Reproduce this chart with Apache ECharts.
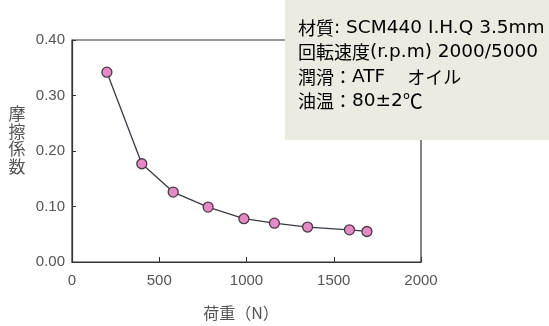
<!DOCTYPE html>
<html><head><meta charset="utf-8">
<script src="https://cdn.jsdelivr.net/npm/echarts@6/dist/echarts.min.js"></script>
<style>html,body{margin:0;padding:0;background:#fff}#c{width:549px;height:326px}</style>
</head><body><div id="c"></div>
<script>
const loads = [200, 400, 580, 780, 985, 1160, 1350, 1590, 1690];
const friction = [0.342, 0.177, 0.126, 0.099, 0.078, 0.070, 0.063, 0.058, 0.055];
const xTicks = [0, 500, 1000, 1500, 2000];
const yTicks = [0, 0.1, 0.2, 0.3, 0.4];
// each note line: [style, text] pieces
const noteLines = [
  [['c', '材質'], ['l', ': SCM440 I.H.Q 3.5mm']],
  [['c', '回転速度'], ['l', '(r.p.m) 2000/5000']],
  [['c', '潤滑：'], ['l', 'ATF'], ['s', '　'], ['c', 'オイル']],
  [['c', '油温：'], ['l', '80±2'], ['d', '℃']]
];
const xName = '荷重（N）';
const yName = '摩擦係数';

const cjk = '"Noto Sans CJK JP", sans-serif';
const lat = '"DejaVu Sans", sans-serif';
const tickFont = '"Liberation Sans", Arial, sans-serif';
const chart = echarts.init(document.getElementById('c'), null, {renderer: 'canvas'});
chart.setOption({
  animation: false,
  backgroundColor: '#fff',
  grid: {left: 72, right: 128, top: 40, bottom: 64, show: true, borderColor: '#333', borderWidth: 1.2, backgroundColor: 'transparent'},
  xAxis: {
    type: 'value', min: xTicks[0], max: xTicks[xTicks.length-1], interval: 500,
    axisLine: {show: true, lineStyle: {color: '#333', width: 1.2}},
    axisTick: {show: true, inside: true, length: 5, lineStyle: {color: '#333'}},
    splitLine: {show: false},
    axisLabel: {color: '#555', fontSize: 15, fontFamily: tickFont, margin: 11, formatter: v => String(v)}
  },
  yAxis: {
    type: 'value', min: yTicks[0], max: yTicks[yTicks.length-1], interval: 0.1,
    axisLine: {show: true, lineStyle: {color: '#333', width: 1.2}},
    axisTick: {show: true, inside: true, length: 4, lineStyle: {color: '#333'}},
    splitLine: {show: false},
    axisLabel: {color: '#555', fontSize: 15, fontFamily: tickFont, margin: 7, formatter: v => v.toFixed(2)}
  },
  series: [{
    type: 'line',
    data: loads.map((x, i) => [x, friction[i]]),
    symbol: 'circle', symbolSize: 10,
    lineStyle: {color: '#3a3a44', width: 1.3},
    itemStyle: {color: '#e58ac4', borderColor: '#4a3a48', borderWidth: 1.3}
  }],
  graphic: [
    {type: 'rect', z: 100, shape: {x: 285, y: 0, width: 264, height: 140}, style: {fill: '#ecebe1'}},
    ...noteLines.map((parts, i) => ({
      type: 'text', z: 101, x: 298, y: 28 + i * 24.5,
      style: {
        text: parts.map(p => '{' + p[0] + '|' + p[1] + '}').join(''),
        textVerticalAlign: 'middle',
        rich: {
          c: {fontFamily: cjk, fontSize: 18, color: '#4a4a4a', verticalAlign: 'middle'},
          s: {fontFamily: cjk, fontSize: 22, color: '#4a4a4a', verticalAlign: 'middle'},
          d: {fontFamily: cjk, fontSize: 20, color: '#4a4a4a', verticalAlign: 'middle'},
          l: {fontFamily: lat, fontSize: 18.5, color: '#4a4a4a', verticalAlign: 'middle'}
        }
      }
    })),
    {type: 'text', z: 101, x: 241, y: 313, style: {text: xName, fill: '#555', font: '16px ' + cjk, textAlign: 'center', textVerticalAlign: 'middle'}},
    ...yName.split('').map((ch, i) => ({type: 'text', z: 101, x: 17, y: 114 + i * 17.5, style: {text: ch, fill: '#555', font: '17px ' + cjk, textAlign: 'center', textVerticalAlign: 'middle'}}))
  ]
});
</script></body></html>
